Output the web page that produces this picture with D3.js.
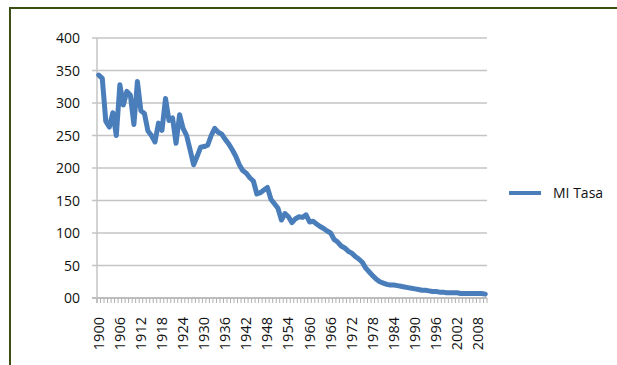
<!DOCTYPE html>
<html>
<head>
<meta charset="utf-8">
<script src="https://cdn.jsdelivr.net/npm/d3@7"></script>
<style>
  html, body { margin: 0; padding: 0; background: #fff; }
  svg { display: block; }
  text { font-family: "Open Sans", sans-serif; fill: #111; }
</style>
</head>
<body>
<svg id="chart" width="617" height="365"></svg>
<script>
// ---- Data ----
const years = d3.range(1900, 2011);
const tasa = [
  343, 338, 272, 263, 285, 250, 328, 297, 318, 312,
  267, 333, 288, 284, 257, 250, 240, 269, 258, 307,
  273, 277, 238, 282, 261, 250, 228, 205, 218, 232,
  233, 235, 250, 261, 255, 252, 244, 237, 228, 218,
  205, 196, 192, 185, 180, 160, 162, 166, 170, 152,
  145, 138, 120, 130, 125, 116, 122, 125, 124, 128,
  117, 118, 114, 110, 107, 103, 100, 90, 86, 80,
  77, 72, 69, 64, 60, 55, 46, 40, 34, 29,
  25, 23, 21, 20, 20, 19, 18, 17, 16, 15,
  14, 13, 12, 12, 11, 10, 10, 9, 9, 8,
  8, 8, 8, 7, 7, 7, 7, 7, 7, 7, 6
];
const yTicks = [0, 50, 100, 150, 200, 250, 300, 350, 400];
const xTickYears = d3.range(1900, 2011, 6);
const seriesName = "MI Tasa";

// ---- Layout ----
const svg = d3.select("#chart");
const plot = { left: 97, right: 487, top: 38, bottom: 298 };

// frame
svg.append("path")
  .attr("d", `M10,365 L10,8 L617,8`)
  .attr("fill", "none")
  .attr("stroke", "#3d4f12")
  .attr("stroke-width", 2);

const x = d3.scaleBand().domain(years).range([plot.left, plot.right]);
const y = d3.scaleLinear().domain([0, 400]).range([plot.bottom, plot.top]);

// gridlines
svg.append("g")
  .selectAll("line")
  .data(yTicks)
  .join("line")
  .attr("x1", plot.left - 5)
  .attr("x2", plot.right)
  .attr("y1", d => y(d))
  .attr("y2", d => y(d))
  .attr("stroke", d => d === 0 ? "#a8a8a8" : "#c4c4c4")
  .attr("stroke-width", 1.6);

// y axis line
svg.append("line")
  .attr("x1", plot.left).attr("x2", plot.left)
  .attr("y1", plot.top).attr("y2", plot.bottom + 5)
  .attr("stroke", "#c4c4c4").attr("stroke-width", 1.5);

// y labels
svg.append("g")
  .selectAll("text")
  .data(yTicks)
  .join("text")
  .attr("x", 80)
  .attr("y", d => y(d) + 5)
  .attr("text-anchor", "end")
  .attr("font-size", 14)
  .text(d => d === 0 ? "00" : d);

// x category tick marks
svg.append("g")
  .selectAll("line")
  .data(years.concat([2011]))
  .join("line")
  .attr("x1", d => d === 2011 ? plot.right : x(d))
  .attr("x2", d => d === 2011 ? plot.right : x(d))
  .attr("y1", plot.bottom)
  .attr("y2", plot.bottom + 5)
  .attr("stroke", "#b0b0b0")
  .attr("stroke-width", 1);

// x labels (rotated)
svg.append("g")
  .selectAll("text")
  .data(xTickYears)
  .join("text")
  .attr("transform", d => `translate(${x(d) + x.bandwidth() / 2 + 5},317) rotate(-90)`)
  .attr("text-anchor", "end")
  .attr("font-size", 14.5)
  .text(d => d);

// line
const line = d3.line()
  .x((d, i) => x(years[i]) + x.bandwidth() / 2)
  .y(d => y(d));

svg.append("path")
  .datum(tasa)
  .attr("d", line)
  .attr("fill", "none")
  .attr("stroke", "#4a7ebb")
  .attr("stroke-width", 5)
  .attr("stroke-linejoin", "round")
  .attr("stroke-linecap", "round");

// legend
svg.append("line")
  .attr("x1", 509).attr("x2", 541)
  .attr("y1", 193).attr("y2", 193)
  .attr("stroke", "#4a7ebb").attr("stroke-width", 4);
svg.append("text")
  .attr("x", 553).attr("y", 198)
  .attr("font-size", 14)
  .text(seriesName);
</script>
</body>
</html>
